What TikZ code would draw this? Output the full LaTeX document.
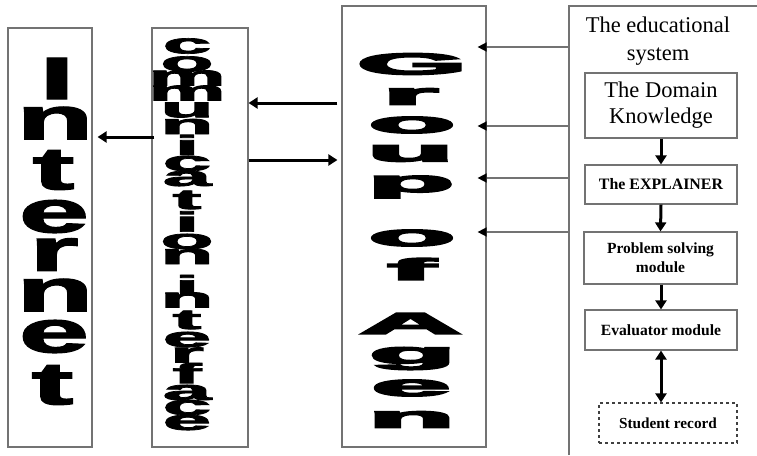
\documentclass[tikz,border=0pt]{standalone}
\usepackage{fontspec}
\usepackage{graphicx}
\setmainfont{Liberation Serif}
\newfontfamily\intfont{Liberation Sans Bold}[FakeBold=2]
\newfontfamily\comfont{Liberation Sans Bold}[FakeBold=2.5]
\newfontfamily\heavyfont{Liberation Sans Bold}[FakeBold=5]
\usetikzlibrary{arrows.meta,calc}
\begin{document}
\begin{tikzpicture}[x=1pt,y=-1pt,
  boxline/.style={draw=black!55,line width=1.2pt},
  bigbox/.style={boxline,rectangle,inner sep=0pt},
  modbox/.style={boxline,rectangle,inner sep=0pt,align=center},
  ltr/.style={inner sep=0pt,outer sep=0pt},
  thickarr/.style={line width=3pt,-{Triangle[width=11pt,length=9pt]}},
  dblarr/.style={line width=3pt,{Triangle[width=11pt,length=9pt]}-{Triangle[width=11pt,length=9pt]}},
  thinarr/.style={draw=black!55,line width=1.5pt,-{Triangle[width=9pt,length=9pt,color=black]}}]
\useasboundingbox (0,0) rectangle (757,455);
% main column boxes
\node[bigbox,minimum width=84pt,minimum height=419pt] (internet) at (50,237.5) {};
\node[bigbox,minimum width=96pt,minimum height=419pt] (comm) at (200,237.5) {};
\node[bigbox,minimum width=144pt,minimum height=441pt] (group) at (414,226.5) {};
% Internet letters
\foreach \ch/\xx/\yy [count=\k] in {I/57/78.5,n/55/123,t/53.5/170,e/54/216.5,r/54/254.5,n/55/295,e/54/336.5,t/52.5/385}
  \node[ltr,font={\intfont\fontsize{60}{60}\selectfont}] (int\k) at (\xx,\yy) {\scalebox{2.1}[1]{\ch}};
% communication interface letters
\foreach \ch/\yy [count=\k] in {c/46,o/64,m/78,m/93,u/110,n/126.5,i/145,c/163.5,a/178.5,t/200,i/221.5,o/241.5,n/256.5,i/285,n/300,t/320,e/339.5,r/355,f/373,a/392.5,c/407.5,e/422.5}
  \node[ltr,font={\comfont\fontsize{28}{28}\selectfont}] (com\k) at (187,\yy) {\scalebox{3.1}[1]{\ch}};
% Group of Agen letters
\foreach \ch/\xx/\yy [count=\k] in {G/412/64,r/410.5/96.5,o/412/125,u/410.5/153.5,p/411/187,o/412/238,f/411.5/269,A/410.5/323.5,g/412.5/358.5,e/411/388,n/411.5/419.5}
  \node[ltr,font={\heavyfont\fontsize{30}{30}\selectfont}] (grp\k) at (\xx,\yy) {\scalebox{4.7}[1]{\ch}};
% educational system frame
\coordinate (eduTL) at (569,6);
\coordinate (eduBL) at (569,455);
\coordinate (eduTR) at (757,6);
\draw[boxline] (eduBL) -- (eduTL) -- (eduTR);
\node[align=center,font={\fontsize{22.5}{28}\selectfont}] (edutitle) at (658,41) {The educational\\system};
% modules
\node[modbox,minimum width=152pt,minimum height=65pt,font={\fontsize{22.5}{26}\selectfont}] (domain) at (661,105.5) {The Domain\\Knowledge};
\node[modbox,minimum width=152pt,minimum height=39pt,font={\bfseries\fontsize{15.9}{19}\selectfont}] (explainer) at (661,184.5) {The EXPLAINER};
\node[modbox,minimum width=153pt,minimum height=52pt,font={\bfseries\fontsize{15.5}{19}\selectfont}] (problem) at (660.5,258) {Problem solving\\module};
\node[modbox,minimum width=152pt,minimum height=40pt,font={\bfseries\fontsize{15.6}{19}\selectfont}] (evaluator) at (661,330) {Evaluator module};
\node[modbox,dashed,draw=black!75,minimum width=138pt,minimum height=40pt,font={\bfseries\fontsize{15.3}{19}\selectfont}] (student) at (668,423) {Student record};
% module arrows
\draw[thickarr] (domain.south) -- (explainer.north);
\draw[thickarr] (explainer.south) -- (problem.north);
\draw[thickarr] ([xshift=0.5pt]problem.south) -- (evaluator.north);
\draw[dblarr] (evaluator.south) -- (student.north -| evaluator.south);
% arrows from educational system to group of agents
\coordinate (gin) at ($(group.east)+(-9,0)$);
\foreach \yy in {47,126,178,232}
  \draw[thinarr] (eduTL |- 0,\yy) -- (gin |- 0,\yy);
% arrows between group and communication interface
\draw[thickarr] ($(group.west |- 0,103)+(-4,0)$) -- (comm.east |- 0,103);
\draw[thickarr] (comm.east |- 0,160) -- ($(group.west |- 0,160)+(-4,0)$);
% arrow from communication interface to internet
\draw[thickarr] ($(comm.west |- 0,137)+(3,0)$) -- ($(internet.east |- 0,137)+(5,0)$);
\end{tikzpicture}
\end{document}
